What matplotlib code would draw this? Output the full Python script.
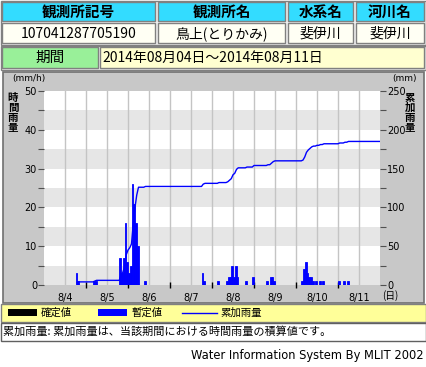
import numpy as np
import matplotlib
matplotlib.use("Agg")
import matplotlib.pyplot as plt
from matplotlib.patches import Rectangle

plt.rcParams['font.family'] = ['Noto Sans CJK JP', 'DejaVu Sans']

# 時間雨量 (hour offset from 2014-08-04 00:00, mm/h)
rain_hours = [18, 19, 28, 29,
              43, 44, 45, 46, 47, 48, 49, 50, 51, 52, 53, 57,
              90, 91,
              99, 104, 105, 106, 107, 108, 109, 110, 115, 119,
              127, 129, 130, 131,
              147, 148, 149, 150, 151, 152, 153, 155, 157, 159,
              168, 171, 173]
rain_values = [3, 1, 1, 1,
               7, 3, 7, 16, 6, 3, 5, 26, 21, 16, 10, 1,
               3, 1,
               1, 1, 2, 2, 5, 2, 5, 2, 1, 2,
               1, 2, 2, 1,
               1, 4, 6, 3, 2, 2, 1, 1, 1, 1,
               1, 1, 1]
day_labels = ["8/4", "8/5", "8/6", "8/7", "8/8", "8/9", "8/10", "8/11"]

header_titles = ["観測所記号", "観測所名", "水系名", "河川名"]
header_values = ["107041287705190", "鳥上(とりかみ)", "斐伊川", "斐伊川"]
period_text = "2014年08月04日～2014年08月11日"

W, H = 426, 367
fig = plt.figure(figsize=(W / 100, H / 100), dpi=100)
fig.patch.set_facecolor("white")

bg = fig.add_axes([0, 0, 1, 1])
bg.set_xlim(0, W)
bg.set_ylim(H, 0)
bg.axis("off")


def cell(x0, y0, x1, y1, fc, text=None, bold=False, size=10, ha="center", ec="#808080"):
    bg.add_patch(Rectangle((x0, y0), x1 - x0, y1 - y0, facecolor=fc, edgecolor=ec, lw=1))
    if text is not None:
        tx = (x0 + x1) / 2 if ha == "center" else x0 + 2
        bg.text(tx, (y0 + y1) / 2 + 0.5, text, ha=ha, va="center", fontsize=size,
                fontweight="bold" if bold else "normal", color="black")


# header table
bg.add_patch(Rectangle((0.5, 0.5), 425, 44, facecolor="#f0f0f0", edgecolor="#808080", lw=1))
cols = [(2, 155), (158, 285), (288, 353), (356, 424)]
for (x0, x1), t, v in zip(cols, header_titles, header_values):
    cell(x0, 2, x1, 21, "#33dcff", t, bold=True, size=10.5)
    cell(x0, 23, x1, 43, "#fffff4", v, size=10)

bg.add_patch(Rectangle((0.5, 45.5), 425, 24, facecolor="#f0f0f0", edgecolor="#808080", lw=1))
cell(2, 47, 98, 68, "#99f099", "期間", size=10.5)
cell(100, 47, 424, 68, "#ffffd0", period_text, size=10, ha="left")

# chart panel
bg.add_patch(Rectangle((2.5, 71.5), 421, 231, facecolor="#c8c8c8", edgecolor="#707070", lw=1.2))
bg.text(12, 78, "(mm/h)", fontsize=6.5, ha="left", va="center", family="DejaVu Sans")
bg.text(392, 79, "(mm)", fontsize=6.5, ha="left", va="center", family="DejaVu Sans")
for i, ch in enumerate("時間雨量"):
    bg.text(13, 98 + i * 10, ch, fontsize=7.5, ha="center", va="center", fontweight="bold")
for i, ch in enumerate("累加雨量"):
    bg.text(410, 98 + i * 10, ch, fontsize=7.5, ha="center", va="center", fontweight="bold")
bg.text(382, 296, "(日)", fontsize=7, ha="left", va="center")

# legend row
bg.add_patch(Rectangle((0.5, 303.5), 425, 18, facecolor="#ffff99", edgecolor="#808080", lw=1))
bg.add_patch(Rectangle((8, 309), 29, 7, facecolor="black", edgecolor="none"))
bg.text(41, 312.5, "確定値", fontsize=7.5, va="center")
bg.add_patch(Rectangle((98, 309), 29, 7, facecolor="#0000ff", edgecolor="none"))
bg.text(131, 312.5, "暫定値", fontsize=7.5, va="center")
bg.plot([182, 217], [312.5, 312.5], color="#0000ff", lw=1)
bg.text(220, 312.5, "累加雨量", fontsize=7.5, va="center")

# note row
bg.add_patch(Rectangle((0.5, 322.5), 425, 18, facecolor="white", edgecolor="#606060", lw=1))
bg.text(3, 331.5, "累加雨量: 累加雨量は、当該期間における時間雨量の積算値です。",
        fontsize=8, va="center")

bg.text(424, 356, "Water Information System By MLIT 2002", fontsize=8.3,
        ha="right", va="center", family="DejaVu Sans")

# plot area
ax = fig.add_axes([44 / W, (H - 285) / H, 336 / W, 194 / H])
ax.set_facecolor("white")
ax.set_xlim(0, 192)
ax.set_ylim(0, 50)
for y in range(0, 50, 10):
    ax.axhspan(y, y + 5, color="#e6e6e6", lw=0, zorder=0)
for x in range(12, 192, 12):
    ax.axvline(x, color="#c4c4c4", lw=1, zorder=1)

ax.bar(rain_hours, rain_values, width=1, align="edge", color="#0000ff",
       edgecolor="#0000ff", lw=0.6, zorder=3)

ax.set_xticks(np.arange(12, 192, 24))
ax.set_xticklabels(day_labels, fontsize=7, family="DejaVu Sans")
ax.set_xticks(np.arange(24, 192, 24), minor=True)
ax.tick_params(axis="x", which="major", length=0, pad=6)
ax.tick_params(axis="x", which="minor", direction="inout", length=4, color="black", width=1)

ax.set_yticks(np.arange(0, 51, 10))
ax.set_yticklabels([str(v) for v in range(0, 51, 10)], fontsize=7, family="DejaVu Sans")
ax.set_yticks(np.arange(5, 50, 10), minor=True)
ax.tick_params(axis="y", which="both", length=4, width=0.8, color="#505050", pad=1)
for s in ax.spines.values():
    s.set_visible(False)

rain = np.zeros(192)
rain[rain_hours] = rain_values
cumul = np.cumsum(rain)
start = rain_hours[0]
ax2 = ax.twinx()
ax2.set_ylim(0, 250)
ax2.plot(np.arange(start, 192) + 1, cumul[start:], color="#0000ff", lw=1, zorder=4)
ax2.set_yticks(np.arange(0, 251, 50))
ax2.set_yticklabels([str(v) for v in range(0, 251, 50)], fontsize=7, family="DejaVu Sans")
ax2.set_yticks(np.arange(25, 250, 50), minor=True)
ax2.tick_params(axis="y", which="both", length=4, width=0.8, color="#505050", pad=1)
for s in ax2.spines.values():
    s.set_visible(False)

fig.savefig("out.png", dpi=100)
